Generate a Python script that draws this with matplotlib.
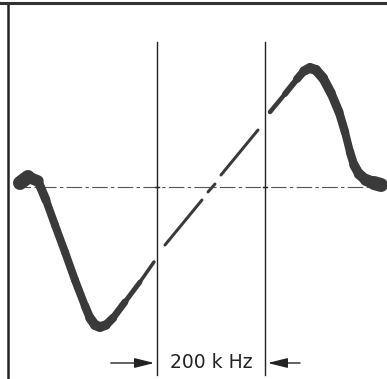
import matplotlib.pyplot as plt
import numpy as np
from matplotlib.collections import LineCollection

# frequency offset in kHz, output in arbitrary units
left_f = [-353.7, -338.9, -320.4, -305.6, -288.9, -270.4, -251.9, -233.3, -224.1, -214.8, -205.6, -194.4, -181.5, -159.3, -131.5, -105.6]
left_v = [0.4, 1.0, 0.6, -1.3, -3.8, -6.5, -9.3, -11.9, -13.1, -13.8, -14.0, -13.8, -13.1, -11.5, -9.5, -7.5]
left_w = [15, 13, 10, 8, 8, 8, 8, 8, 9, 10, 10, 9, 8, 6, 4, 3]

mid1_f = [-85.2, -16.7]
mid1_v = [-5.8, -1.3]
mid2_f = [-5.6, 7.4]
mid2_v = [-0.5, 0.3]
mid3_f = [18.5, 87.0]
mid3_v = [1.2, 5.7]

right_f = [109.3, 137.0, 159.3, 172.2, 183.3, 194.4, 207.4, 222.2, 237.0, 248.1, 257.4, 264.8, 274.1, 287.0, 301.9, 314.8]
right_v = [7.5, 9.3, 10.8, 11.6, 11.9, 11.7, 10.9, 9.4, 7.5, 5.5, 3.5, 2.2, 1.3, 0.7, 0.4, 0.2]
right_w = [4, 5, 7, 9, 10, 10, 10, 9, 9, 8, 8, 9, 10, 11, 13, 15]

markers_f = [-100, 100]
span_label = '200 k Hz'

trace_col = '#3a3a3a'

fig = plt.figure(figsize=(3.87, 3.79), dpi=100)
ax = fig.add_axes([0, 0, 1, 1])
ax.set_xlim(-390.7, 325.9)
ax.set_ylim(-19.2, 18.7)
ax.axis('off')

# frame (left and top only)
ax.plot([-375.9, -375.9], [-19.2, 18.4], color='#222', lw=1.8)
ax.plot([-390.7, 325.9], [18.4, 18.4], color='#333', lw=2.2)

# zero axis, dash-dot
ax.plot([-362, 325.9], [0, 0], color='#555', lw=0.8, ls=(0, (14, 3, 3, 3)))

# vertical markers
for f in markers_f:
    ax.plot([f, f], [-18.8, 14.5], color='#222', lw=1.0)
    ax.plot([f - 4, f + 4], [0, 0], color='#222', lw=1.0)


def trace(f, v, w):
    pts = np.column_stack([f, v])
    segs = [pts[i:i + 2] for i in range(len(pts) - 1)]
    lws = [(w[i] + w[i + 1]) / 2 * 0.72 for i in range(len(pts) - 1)]
    lc = LineCollection(segs, linewidths=lws, colors=trace_col, capstyle='round', joinstyle='round')
    ax.add_collection(lc)


trace(left_f, left_v, left_w)
trace(mid1_f, mid1_v, [3, 3])
trace(mid2_f, mid2_v, [3, 3])
trace(mid3_f, mid3_v, [3, 3])
trace(right_f, right_v, right_w)

# 200 kHz span arrows
astyle = '-|>,head_length=1.2,head_width=0.3'
ax.annotate('', xy=(-100, -17.6), xytext=(-190.7, -17.6),
            arrowprops=dict(arrowstyle=astyle, color='#222', lw=1.0))
ax.annotate('', xy=(100, -17.6), xytext=(170, -17.6),
            arrowprops=dict(arrowstyle=astyle, color='#222', lw=1.0))
ax.text(0, -17.6, span_label, ha='center', va='center', fontsize=13.5, color='#222')

fig.savefig('out.png', dpi=100)
